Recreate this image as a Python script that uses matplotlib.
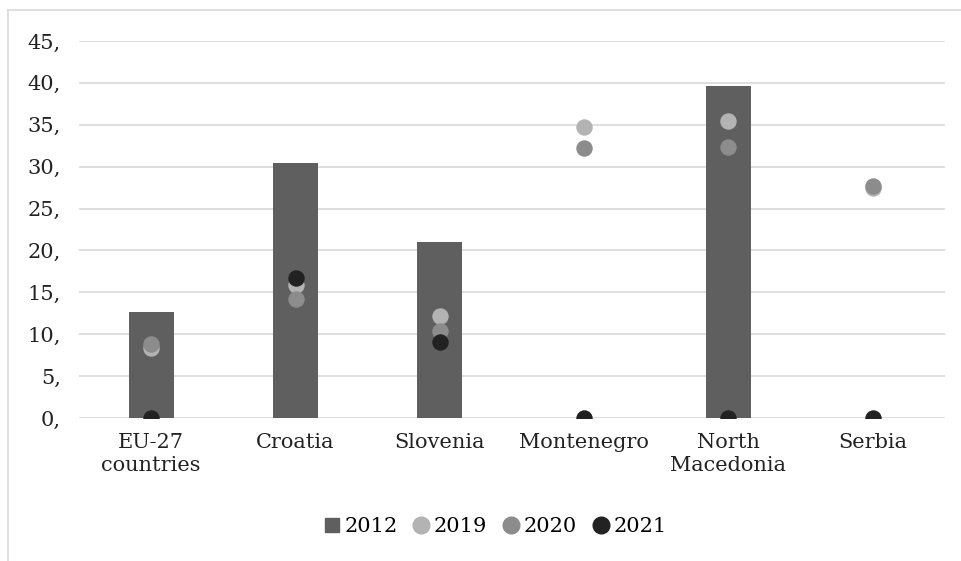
import numpy as np
import matplotlib.pyplot as plt
from matplotlib.lines import Line2D

plt.rcParams['font.family'] = ['DejaVu Serif']

countries = ['EU-27\ncountries', 'Croatia', 'Slovenia', 'Montenegro', 'North\nMacedonia', 'Serbia']
val_2012 = [12.6, 30.4, 21.0, np.nan, 39.6, np.nan]
val_2019 = [8.3, 15.9, 12.2, 34.7, 35.5, 27.5]
val_2020 = [8.8, 14.2, 10.4, 32.2, 32.4, 27.7]
val_2021 = [0.0, 16.7, 9.1, 0.0, 0.0, 0.0]
y_ticks = [0, 5, 10, 15, 20, 25, 30, 35, 40, 45]

W, H = 962, 561
fig = plt.figure(figsize=(W / 100, H / 100), dpi=100)
ax = fig.add_axes([79 / W, (H - 418) / H, (945 - 79) / W, (418 - 41) / H])

x = np.arange(len(countries))
ax.bar(x, val_2012, width=0.31, color='#5f5f5f', label='2012', zorder=2)
ax.scatter(x, val_2019, s=140, color='#b3b3b3', label='2019', zorder=3, linewidths=0)
ax.scatter(x, val_2020, s=140, color='#8c8c8c', label='2020', zorder=4, linewidths=0)
ax.scatter(x, val_2021, s=140, color='#222222', label='2021', zorder=5, linewidths=0)

ax.set_xlim(-0.5, len(countries) - 0.5)
ax.set_ylim(0, 45)
ax.set_yticks(y_ticks)
ax.set_yticklabels([f'{t},' for t in y_ticks], fontsize=15, color='#222222')
ax.set_xticks(x)
ax.set_xticklabels(countries, fontsize=15, color='#222222', linespacing=1.25)
ax.tick_params(axis='both', length=0)
ax.tick_params(axis='y', pad=13)
ax.tick_params(axis='x', pad=11)
ax.grid(axis='y', color='#d9d9d9', linewidth=1.2, zorder=0)
ax.set_axisbelow(True)
for s in ax.spines.values():
    s.set_visible(False)

handles = [
    Line2D([], [], marker='s', linestyle='none', color='#5f5f5f', markersize=10),
    Line2D([], [], marker='o', linestyle='none', color='#b3b3b3', markersize=12),
    Line2D([], [], marker='o', linestyle='none', color='#8c8c8c', markersize=12),
    Line2D([], [], marker='o', linestyle='none', color='#222222', markersize=12),
]
fig.legend(handles, ['2012', '2019', '2020', '2021'], loc='center',
           bbox_to_anchor=(493 / W, 1 - 527 / H), ncol=4, frameon=False,
           fontsize=15, handletextpad=0.0, columnspacing=0.55, handlelength=1.2)

# light frame around the chart
fig.add_artist(Line2D([8 / W, 1], [1 - 10 / H, 1 - 10 / H], color='#d9d9d9', linewidth=1.2))
fig.add_artist(Line2D([8 / W, 8 / W], [0, 1 - 10 / H], color='#d9d9d9', linewidth=1.2))

fig.savefig('out.png', dpi=100)
